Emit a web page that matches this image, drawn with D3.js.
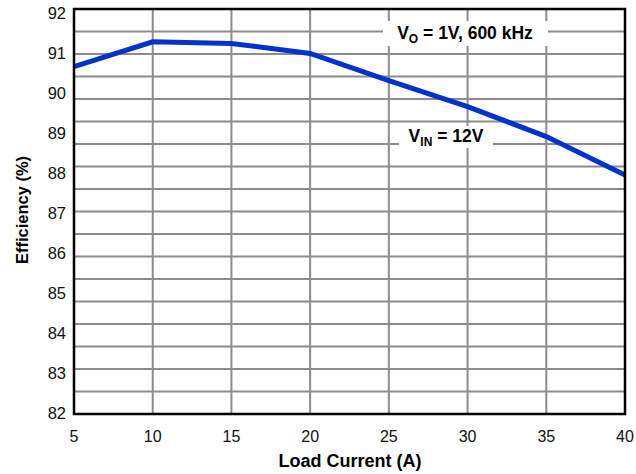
<!DOCTYPE html>
<html><head><meta charset="utf-8">
<script src="https://cdn.jsdelivr.net/npm/d3@7"></script>
<style>body{margin:0;background:#fff}svg{display:block}text{font-family:"Liberation Sans",Arial,sans-serif}</style>
</head><body>
<script>
const loadCurrent = [5, 10, 15, 20, 25, 30, 35, 40];
const efficiency = [90.66, 91.28, 91.24, 90.99, 90.31, 89.66, 88.91, 87.95];
const xTicks = [5, 10, 15, 20, 25, 30, 35, 40];
const yTicks = [82, 83, 84, 85, 86, 87, 88, 89, 90, 91, 92];

const W = 636, H = 474;
const L = 74, R = 625, T = 9, B = 414;
const svg = d3.select("body").append("svg").attr("width", W).attr("height", H);

const x = d3.scaleLinear().domain([5, 40]).range([L, R]);
const y = d3.scaleLinear().domain([82, 92]).range([413, 13]);
const yGrid = d3.scaleLinear().domain([0, 18]).range([B, T]);

// grid
const g = svg.append("g");
g.selectAll("line.h").data(d3.range(1, 18)).join("line")
  .attr("x1", L).attr("x2", R).attr("y1", d => yGrid(d)).attr("y2", d => yGrid(d))
  .attr("stroke", "#8c8c8c").attr("stroke-width", 2);
g.selectAll("line.v").data(xTicks.slice(1, -1)).join("line")
  .attr("x1", d => x(d)).attr("x2", d => x(d)).attr("y1", T).attr("y2", B)
  .attr("stroke", "#8c8c8c").attr("stroke-width", 2);

// annotation boxes (mask gridlines)
svg.append("rect").attr("x", 383).attr("y", 21).attr("width", 165).attr("height", 25).attr("fill", "#fff");
svg.append("rect").attr("x", 399).attr("y", 126).attr("width", 94).attr("height", 22).attr("fill", "#fff");

// line
svg.append("path").datum(loadCurrent.map((d, i) => [d, efficiency[i]]))
  .attr("d", d3.line().x(d => x(d[0])).y(d => y(d[1])))
  .attr("fill", "none").attr("stroke", "#0033cc").attr("stroke-width", 5).attr("stroke-linejoin", "miter");

// frame
svg.append("rect").attr("x", L).attr("y", T).attr("width", R - L).attr("height", B - T)
  .attr("fill", "none").attr("stroke", "#000").attr("stroke-width", 2.5);

// tick labels
svg.selectAll("text.yt").data(yTicks).join("text")
  .attr("x", L - 8).attr("y", d => y(d)).attr("dy", "0.36em").attr("text-anchor", "end")
  .attr("font-size", 16.5).attr("fill", "#111").text(d => d);
svg.selectAll("text.xt").data(xTicks).join("text")
  .attr("x", d => x(d)).attr("y", 442).attr("text-anchor", "middle")
  .attr("font-size", 16).attr("fill", "#111").text(d => d);

// axis titles
svg.append("text").attr("x", 350).attr("y", 467).attr("text-anchor", "middle")
  .attr("font-size", 18).attr("font-weight", "bold").text("Load Current (A)");
svg.append("text").attr("transform", "translate(28,210) rotate(-90)").attr("text-anchor", "middle")
  .attr("font-size", 16.5).attr("font-weight", "bold").text("Efficiency (%)");

// annotations
const a1 = svg.append("text").attr("x", 465).attr("y", 39).attr("text-anchor", "middle")
  .attr("font-size", 17.5).attr("font-weight", "bold");
a1.append("tspan").text("V");
a1.append("tspan").attr("font-size", 12).attr("dy", 4).text("O");
a1.append("tspan").attr("dy", -4).text(" = 1V, 600 kHz");
const a2 = svg.append("text").attr("x", 446).attr("y", 142).attr("text-anchor", "middle")
  .attr("font-size", 17.5).attr("font-weight", "bold");
a2.append("tspan").text("V");
a2.append("tspan").attr("font-size", 12).attr("dy", 4).text("IN");
a2.append("tspan").attr("dy", -4).text(" = 12V");
</script>
</body></html>
